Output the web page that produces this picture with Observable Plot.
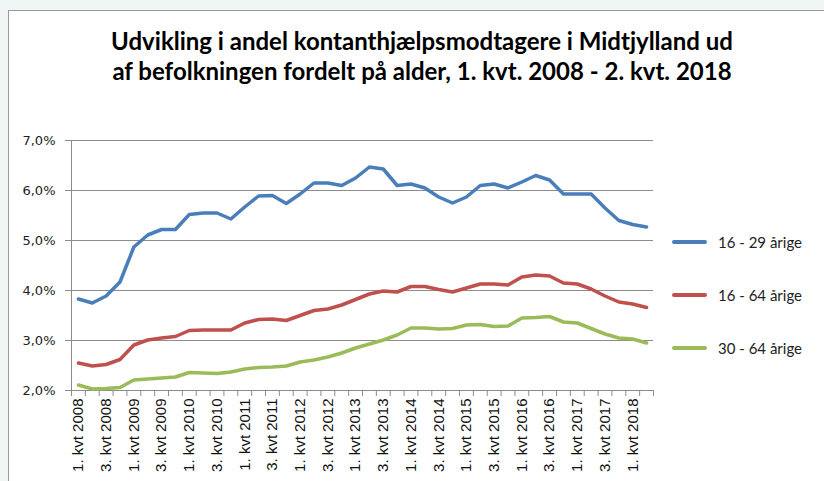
<!DOCTYPE html>
<html><head><meta charset="utf-8">
<script src="https://cdn.jsdelivr.net/npm/d3@7"></script>
<script src="https://cdn.jsdelivr.net/npm/@observablehq/plot@0.6"></script>
<style>
html,body{margin:0;padding:0;}
body{background:#f0f5f5;width:824px;height:481px;overflow:hidden;position:relative;}
#frame{position:absolute;left:8px;top:10px;width:840px;height:490px;background:#fff;border-left:1px solid #9a9a9a;border-top:1px solid #9a9a9a;}
#title{position:absolute;left:0;width:844px;top:26px;text-align:center;font-family:Lato,"Open Sans",sans-serif;font-weight:bold;font-size:24px;line-height:30px;color:#000;}
#chart{position:absolute;left:0;top:0;}
#legend{position:absolute;left:672px;top:0;font-family:Lato,"Open Sans",sans-serif;font-size:15px;color:#222;}
.item{position:absolute;left:0;white-space:nowrap;height:20px;}
.item span.sw{position:absolute;left:0;top:8px;width:35px;height:4px;border-radius:2px;}
.item span.tx{position:absolute;left:46px;top:0;line-height:20px;}
</style>
</head><body>
<div id="frame"></div>
<div id="title"><div>Udvikling i andel kontanthjælpsmodtagere i Midtjylland ud</div><div>af befolkningen fordelt på alder, 1. kvt. 2008 - 2. kvt. 2018</div></div>
<div id="chart"></div>
<div id="legend"></div>
<script>
const quarters = [
 "1. kvt 2008","2. kvt 2008","3. kvt 2008","4. kvt 2008",
 "1. kvt 2009","2. kvt 2009","3. kvt 2009","4. kvt 2009",
 "1. kvt 2010","2. kvt 2010","3. kvt 2010","4. kvt 2010",
 "1. kvt 2011","2. kvt 2011","3. kvt 2011","4. kvt 2011",
 "1. kvt 2012","2. kvt 2012","3. kvt 2012","4. kvt 2012",
 "1. kvt 2013","2. kvt 2013","3. kvt 2013","4. kvt 2013",
 "1. kvt 2014","2. kvt 2014","3. kvt 2014","4. kvt 2014",
 "1. kvt 2015","2. kvt 2015","3. kvt 2015","4. kvt 2015",
 "1. kvt 2016","2. kvt 2016","3. kvt 2016","4. kvt 2016",
 "1. kvt 2017","2. kvt 2017","3. kvt 2017","4. kvt 2017",
 "1. kvt 2018","2. kvt 2018"
];
const age16to29 = [3.83,3.75,3.89,4.17,4.87,5.11,5.22,5.22,5.52,5.55,5.55,5.43,5.67,5.89,5.90,5.74,5.93,6.15,6.15,6.10,6.25,6.47,6.43,6.10,6.13,6.05,5.87,5.75,5.87,6.10,6.13,6.05,6.17,6.30,6.21,5.93,5.93,5.93,5.65,5.40,5.32,5.27];
const age16to64 = [2.55,2.49,2.52,2.62,2.91,3.01,3.05,3.08,3.20,3.21,3.21,3.21,3.35,3.42,3.43,3.40,3.50,3.60,3.63,3.71,3.82,3.93,3.99,3.97,4.08,4.08,4.02,3.97,4.05,4.13,4.13,4.11,4.27,4.31,4.29,4.15,4.13,4.03,3.89,3.77,3.73,3.66];
const age30to64 = [2.11,2.03,2.04,2.06,2.21,2.23,2.25,2.27,2.36,2.35,2.34,2.37,2.43,2.46,2.47,2.49,2.57,2.61,2.67,2.75,2.85,2.93,3.01,3.11,3.25,3.25,3.23,3.24,3.31,3.32,3.28,3.29,3.45,3.46,3.48,3.37,3.35,3.24,3.13,3.05,3.03,2.95];
const seriesNames = ["16 - 29 årige","16 - 64 årige","30 - 64 årige"];
const seriesColors = ["#4a7ebb","#c0504d","#9bbb59"];
const yTicks = [2,3,4,5,6,7];

const seriesValues = [age16to29, age16to64, age30to64];
const rows = [];
seriesNames.forEach((name, s) => seriesValues[s].forEach((v, i) => rows.push({q: quarters[i], v, s: name})));

const W = 824, H = 481, mL = 71, mR = 171, mT = 140, mB = 91;
const bw = (W - mL - mR) / quarters.length;
const labelTicks = quarters.filter((d, i) => i % 2 === 0);
const fmt = d => d.toFixed(1).replace(".", ",") + "%";

const chart = Plot.plot({
  width: W, height: H,
  marginLeft: mL, marginRight: mR, marginTop: mT, marginBottom: mB,
  style: {background: "transparent", overflow: "visible", color: "#222"},
  x: {type: "band", domain: quarters, padding: 0, axis: null},
  y: {domain: [2, 7], axis: null},
  color: {domain: seriesNames, range: seriesColors},
  marks: [
    Plot.gridY(yTicks, {stroke: "#8c8c8c", strokeOpacity: 1, strokeWidth: 1}),
    Plot.axisY(yTicks, {label: null, tickFormat: fmt, tickSize: 6, tickPadding: 10, stroke: "#8c8c8c", fontSize: 13, fontFamily: "DejaVu Sans", fill: "#222"}),
    Plot.ruleX([quarters[0]], {dx: -bw / 2, stroke: "#8c8c8c"}),
    Plot.ruleY([2], {stroke: "#8c8c8c"}),
    Plot.axisX(quarters, {label: null, tickSize: 6, tickFormat: () => "", dx: -bw / 2, stroke: "#8c8c8c"}),
    Plot.axisX([quarters[quarters.length - 1]], {label: null, tickSize: 6, tickFormat: () => "", dx: bw / 2, stroke: "#8c8c8c"}),
    Plot.axisX(labelTicks, {label: null, tickSize: 0, tickRotate: -90, tickPadding: 8, fontSize: 15, fontFamily: "Liberation Sans", fill: "#111"}),
    Plot.line(rows, {x: "q", y: "v", z: "s", stroke: "s", strokeWidth: 3.5, strokeLinejoin: "round", strokeLinecap: "round"})
  ]
});
document.getElementById("chart").appendChild(chart);

const legendTops = [232, 285, 338];
const legend = document.getElementById("legend");
seriesNames.forEach((name, i) => {
  const item = document.createElement("div");
  item.className = "item";
  item.style.top = legendTops[i] + "px";
  item.innerHTML = `<span class="sw" style="background:${seriesColors[i]}"></span><span class="tx">${name}</span>`;
  legend.appendChild(item);
});
</script>
</body></html>
